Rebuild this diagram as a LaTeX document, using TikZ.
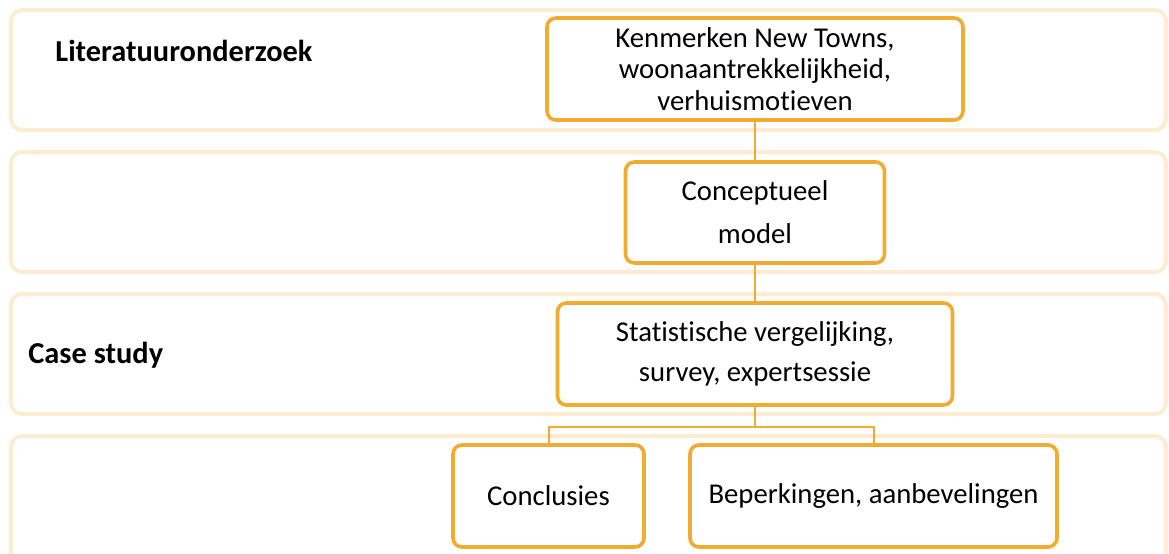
\documentclass[tikz,border=0pt]{standalone}
\usepackage{fontspec}
\setmainfont{Carlito}[Ligatures=NoCommon]
\definecolor{bandc}{RGB}{252,236,210}
\definecolor{acc}{RGB}{240,172,48}
\begin{document}
\begin{tikzpicture}[x=0.5pt,y=-0.5pt,
  band/.style={draw=bandc,line width=2pt,rounded corners=5.5pt,fill=white},
  box/.style={draw=acc,line width=1.8pt,rounded corners=4.5pt,fill=white,align=center,inner sep=0pt},
  link/.style={draw=acc,line width=1pt},
  lbl/.style={font=\bfseries\fontsize{15.2}{18}\selectfont,anchor=base west,inner sep=0pt}]
\useasboundingbox (0,0) rectangle (1169,553);
% bands
\draw[band] (11,10) rectangle (1166,130);
\draw[band] (11,152) rectangle (1166,272);
\draw[band] (11,294) rectangle (1166,414);
\draw[band] (11,436) rectangle (1166,580);
% labels
\node[lbl] (l1) at (55,61) {Literatuuronderzoek};
\node[lbl] (l2) at (28,363) {Case study};
% boxes
\node[box, minimum width=208pt, minimum height=51pt, font=\fontsize{14.35}{15.6}\selectfont] (k) at (755,69)
  {Kenmerken New Towns,\\woonaantrekkelijkheid,\\verhuismotieven};
\node[box, minimum width=129.5pt, minimum height=50.5pt, font=\fontsize{14.35}{21.5}\selectfont] (c) at (755,212.5)
  {Conceptueel\\model};
\node[box, minimum width=197.5pt, minimum height=51pt, font=\fontsize{14.35}{20}\selectfont] (s) at (755,354)
  {Statistische vergelijking,\\survey, expertsessie};
\node[box, minimum width=95.5pt, minimum height=51pt, font=\fontsize{14.35}{18}\selectfont] (co) at (548.5,496)
  {Conclusies};
\node[box, minimum width=183.5pt, minimum height=51pt, font=\fontsize{14.35}{18}\selectfont] (be) at (873.5,496)
  {Beperkingen, aanbevelingen};
% connectors
\draw[link] (k.south) -- (c.north);
\draw[link] (c.south) -- (s.north);
\path (s.south) ++(0,20) coordinate (j);
\draw[link] (s.south) -- (j);
\draw[link] (co.north) |- (j) -| (be.north);
\end{tikzpicture}
\end{document}
